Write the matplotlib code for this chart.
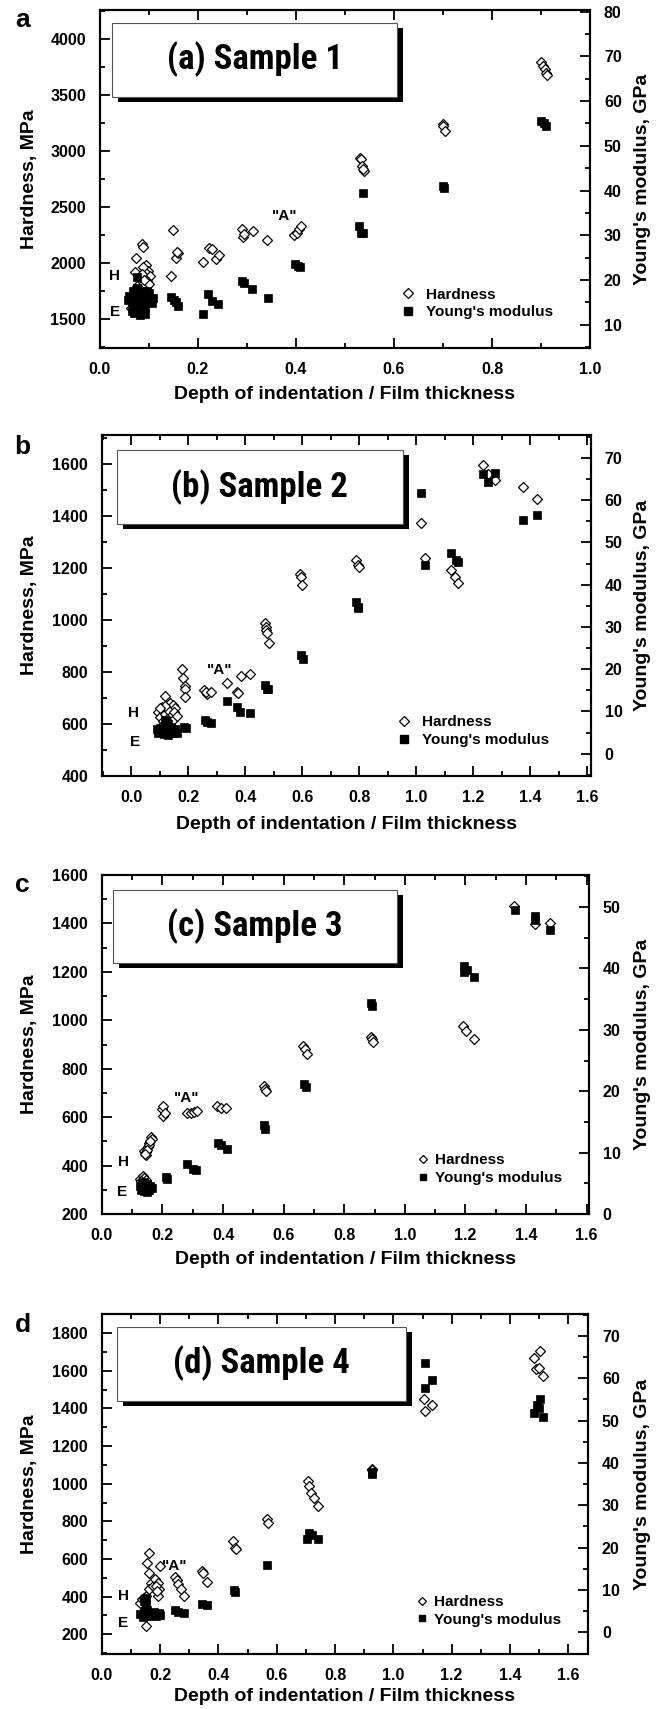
import matplotlib
matplotlib.use('Agg')
import matplotlib.pyplot as plt
from matplotlib.patches import Rectangle
from matplotlib.lines import Line2D
from matplotlib.ticker import MultipleLocator, FormatStrFormatter
from matplotlib import font_manager

plt.rcParams['font.family'] = ['Liberation Sans', 'DejaVu Sans']
plt.rcParams['font.weight'] = 'bold'

# ---------------- data ----------------
# Sample 1
a_depth_h = [0.0853, 0.0887, 0.0737, 0.094, 0.0976, 0.0716, 0.092, 0.102, 0.082, 0.097, 0.075, 0.0635,
             0.088, 0.100, 0.085, 0.090, 0.145, 0.149, 0.155, 0.159, 0.157, 0.2095, 0.2225, 0.2286,
             0.237, 0.243, 0.289, 0.292, 0.293, 0.312, 0.341, 0.397, 0.402, 0.407, 0.410, 0.530,
             0.532, 0.535, 0.539, 0.537, 0.699, 0.700, 0.705, 0.9004, 0.9048, 0.908, 0.911, 0.913]
a_hard = [2170, 2140, 2045, 1982, 1931, 1917, 1917, 1887, 1872, 1842, 1797, 1595,
          1960, 1810, 1900, 1850, 1881, 2292, 2049, 2093, 2101, 2007, 2137, 2128,
          2040, 2072, 2301, 2236, 2256, 2286, 2206, 2247, 2271, 2307, 2330, 2938,
          2924, 2865, 2820, 2840, 3238, 3226, 3176, 3795, 3754, 3730, 3695, 3680]
a_depth_e = [0.060, 0.065, 0.068, 0.070, 0.072, 0.075, 0.076, 0.078, 0.080, 0.082, 0.083, 0.085,
             0.087, 0.088, 0.090, 0.092, 0.095, 0.098, 0.100, 0.103, 0.106, 0.109, 0.065, 0.058,
             0.076, 0.097, 0.070, 0.092, 0.1446, 0.151, 0.156, 0.159, 0.2095, 0.220, 0.229, 0.2416,
             0.290, 0.2935, 0.311, 0.342, 0.398, 0.404, 0.409, 0.528, 0.532, 0.537, 0.537, 0.699,
             0.701, 0.9004, 0.9065, 0.9108]
a_mod = [16.5, 15.0, 17.5, 14.0, 16.0, 18.2, 13.5, 15.5, 17.0, 12.2, 14.5, 16.5,
         13.0, 15.0, 17.5, 14.0, 16.0, 15.0, 17.0, 15.5, 14.8, 16.0, 13.0, 15.5,
         20.6, 17.6, 12.6, 12.4, 16.1, 15.5, 15.0, 14.2, 12.5, 16.8, 15.4, 14.6,
         19.8, 19.4, 18.0, 15.9, 23.5, 23.2, 23.0, 32.1, 30.6, 30.4, 39.4, 41.0,
         40.6, 55.45, 55.0, 54.4]

# Sample 2
b_depth_h = [0.1186, 0.095, 0.107, 0.136, 0.145, 0.153, 0.100, 0.110, 0.120, 0.130, 0.140, 0.150,
             0.125, 0.115, 0.135, 0.105, 0.145, 0.160, 0.120, 0.100, 0.179, 0.181, 0.187, 0.188,
             0.187, 0.256, 0.266, 0.262, 0.281, 0.336, 0.371, 0.374, 0.386, 0.416, 0.468, 0.471,
             0.474, 0.4755, 0.483, 0.592, 0.595, 0.600, 0.7895, 0.794, 0.800, 1.018, 1.029,
             1.1215, 1.1365, 1.148, 1.235, 1.253, 1.2755, 1.373, 1.425]
b_hard = [707, 645, 664, 679, 673, 660, 625, 610, 640, 655, 630, 645,
          620, 600, 600, 590, 615, 630, 670, 660, 813, 775, 747, 736,
          704, 730, 717, 722, 724, 756, 724, 720, 784, 791, 988, 973,
          960, 948, 912, 1178, 1165, 1133, 1232, 1210, 1203, 1372, 1239,
          1193, 1165, 1143, 1596, 1562, 1539, 1510, 1466]
b_depth_e = [0.090, 0.095, 0.100, 0.105, 0.110, 0.115, 0.120, 0.125, 0.130, 0.135, 0.140, 0.145,
             0.150, 0.155, 0.160, 0.120, 0.130, 0.118, 0.125, 0.184, 0.191, 0.259, 0.266, 0.281,
             0.336, 0.371, 0.381, 0.416, 0.468, 0.4755, 0.480, 0.595, 0.6026, 0.7895, 0.794,
             0.797, 1.018, 1.029, 1.1215, 1.141, 1.145, 1.235, 1.250, 1.2755, 1.373, 1.425]
b_mod = [5.8, 5.0, 6.0, 5.2, 5.6, 4.6, 5.9, 5.0, 4.4, 5.5, 6.2, 4.8,
         5.3, 5.8, 5.0, 6.5, 7.0, 8.0, 7.2, 6.4, 6.0, 8.0, 7.6, 7.2,
         12.5, 11.1, 9.9, 9.7, 16.2, 15.4, 15.3, 23.3, 22.5, 35.9, 34.8,
         34.4, 61.7, 44.6, 47.4, 45.8, 45.4, 66.3, 64.3, 66.5, 55.3, 56.4]

# Sample 3
c_depth_h = [0.126, 0.136, 0.140, 0.147, 0.130, 0.140, 0.147, 0.151, 0.154, 0.161, 0.164, 0.157,
             0.145, 0.150, 0.143, 0.160, 0.199, 0.203, 0.203, 0.207, 0.280, 0.294, 0.305, 0.315,
             0.380, 0.392, 0.410, 0.536, 0.538, 0.541, 0.664, 0.671, 0.678, 0.888, 0.891, 0.895,
             1.193, 1.203, 1.227, 1.361, 1.430, 1.478]
c_hard = [344, 358, 350, 340, 335, 461, 443, 475, 493, 520, 509, 485,
          455, 465, 450, 500, 633, 647, 605, 619, 619, 619, 622, 626,
          647, 640, 636, 729, 718, 708, 894, 880, 863, 931, 922, 912,
          976, 955, 922, 1474, 1399, 1402]
c_depth_e = [0.125, 0.130, 0.135, 0.140, 0.145, 0.150, 0.155, 0.160, 0.165, 0.140, 0.150, 0.132,
             0.210, 0.214, 0.280, 0.301, 0.310, 0.382, 0.392, 0.413, 0.536, 0.538, 0.667, 0.674,
             0.888, 0.891, 1.196, 1.206, 1.228, 1.196, 1.364, 1.430, 1.430, 1.478]
c_mod = [4.5, 4.0, 4.8, 3.8, 4.3, 4.9, 4.0, 4.5, 4.2, 5.2, 3.6, 5.0,
         6.0, 5.7, 8.1, 7.4, 7.2, 11.5, 11.2, 10.6, 14.5, 13.8, 21.1, 20.75,
         34.3, 33.9, 39.4, 39.8, 38.6, 40.4, 49.5, 48.5, 47.9, 46.2]

# Sample 4
d_depth_h = [0.153, 0.160, 0.154, 0.160, 0.170, 0.178, 0.131, 0.138, 0.153, 0.163, 0.175, 0.182,
             0.192, 0.197, 0.192, 0.187, 0.189, 0.145, 0.201, 0.252, 0.256, 0.262, 0.270, 0.281,
             0.342, 0.347, 0.361, 0.449, 0.455, 0.460, 0.568, 0.571, 0.707, 0.710, 0.717, 0.726,
             0.740, 0.925, 0.928, 1.105, 1.107, 1.134, 1.483, 1.491, 1.498, 1.504, 1.513]
d_hard = [244, 630, 580, 523, 474, 447, 368, 386, 403, 439, 456, 492,
          474, 439, 403, 456, 430, 395, 562, 504, 488, 465, 442, 403,
          536, 527, 478, 695, 660, 651, 813, 792, 1013, 987, 951, 925,
          884, 1079, 1072, 1450, 1388, 1420, 1671, 1609, 1614, 1703, 1574]
d_depth_e = [0.131, 0.146, 0.160, 0.170, 0.180, 0.190, 0.200, 0.140, 0.155, 0.165, 0.185, 0.195,
             0.153, 0.143, 0.150, 0.252, 0.262, 0.280, 0.342, 0.361, 0.452, 0.456, 0.568, 0.704,
             0.711, 0.721, 0.740, 0.925, 0.928, 1.107, 1.110, 1.134, 1.483, 1.494, 1.501, 1.504,
             1.513]
d_mod = [4.3, 4.7, 3.9, 4.3, 4.8, 4.0, 4.2, 3.6, 5.2, 4.5, 3.8, 4.6,
         8.2, 7.5, 6.5, 5.3, 4.9, 4.5, 6.8, 6.4, 10.0, 9.6, 16.0, 22.1,
         23.5, 23.1, 22.1, 37.8, 37.3, 63.6, 57.8, 59.6, 51.8, 53.8, 53.0, 55.2,
         50.9]

panel_letters = ['a', 'b', 'c', 'd']
panel_titles = ['(a) Sample 1', '(b) Sample 2', '(c) Sample 3', '(d) Sample 4']
x_label = 'Depth of indentation / Film thickness'
left_label = 'Hardness, MPa'
right_label = "Young's modulus, GPa"
legend_labels = ['Hardness', "Young's modulus"]

# ---------------- layout / style ----------------
axes_rects = [[0.150, 0.7964, 0.736, 0.1978],
              [0.153, 0.5459, 0.734, 0.1995],
              [0.153, 0.2896, 0.731, 0.1984],
              [0.153, 0.0322, 0.730, 0.1990]]
xlims = [(0, 1.0), (-0.103, 1.612), (0, 1.607), (0, 1.668)]
ylims_l = [(1242, 4258), (400, 1710), (200, 1600), (95, 1903)]
ylims_r = [(4.8, 80.4), (-5.3, 75.4), (0, 55.2), (-5.1, 75.2)]
ymaj_l = [500, 200, 200, 200]
boxes = [(0.0257, 0.7435, 0.606, 0.9624), (0.0303, 0.739, 0.615, 0.956),
         (0.0218, 0.7395, 0.606, 0.956), (0.0305, 0.745, 0.625, 0.9626)]
he_pos = [((0.03, 1883), (0.03, 1562), (0.377, 2419)),
          ((0.009, 643), (0.012, 531), (0.311, 807)),
          ((0.07, 413), (0.067, 290), (0.28, 681)),
          ((0.073, 403), (0.073, 262), (0.248, 562))]
leg_pos = [(0.616, 0.1317, 0.8, 4.8, 5.5), (0.605, 0.132, 0.8, 4.8, 5.5),
           (0.646, 0.133, 0.4, 4.2, 5.0), (0.645, 0.127, 0.4, 4.2, 5.0)]
xlabel_y = [-0.112, -0.118, -0.108, -0.10]
letter_pos = [(23, 20), (22, 447), (22, 885), (23, 1325)]

names = {f.name for f in font_manager.fontManager.ttflist}
if 'Liberation Sans Narrow' in names:
    title_font = dict(family='Liberation Sans Narrow', size=26, weight='bold')
elif 'Roboto Condensed' in names:
    title_font = dict(family='Roboto Condensed', size=25, weight='bold')
else:
    title_font = dict(family='Liberation Sans', size=22, weight='bold')

data = [(a_depth_h, a_hard, a_depth_e, a_mod), (b_depth_h, b_hard, b_depth_e, b_mod),
        (c_depth_h, c_hard, c_depth_e, c_mod), (d_depth_h, d_hard, d_depth_e, d_mod)]

W, H = 666, 1709
fig = plt.figure(figsize=(W / 100, H / 100), dpi=100)

for i in range(4):
    xh, yh, xe, ye = data[i]
    ax = fig.add_axes(axes_rects[i])
    ax2 = ax.twinx()
    ax.plot(xh, yh, ls='none', marker='D', ms=4.8, mfc='white', mec='black', mew=0.9, zorder=3)
    ax2.plot(xe, ye, ls='none', marker='s', ms=5.5, mfc='black', mec='black', mew=0.5, zorder=3)
    ax.set_xlim(*xlims[i])
    ax.set_ylim(*ylims_l[i])
    ax2.set_ylim(*ylims_r[i])
    ax.xaxis.set_major_locator(MultipleLocator(0.2))
    ax.xaxis.set_minor_locator(MultipleLocator(0.1))
    ax.yaxis.set_major_locator(MultipleLocator(ymaj_l[i]))
    ax.yaxis.set_minor_locator(MultipleLocator(ymaj_l[i] / 2))
    ax2.yaxis.set_major_locator(MultipleLocator(10))
    ax2.yaxis.set_minor_locator(MultipleLocator(5))
    ax.xaxis.set_major_formatter(FormatStrFormatter('%.1f'))
    ax.tick_params(which='both', direction='in', top=True, right=False, width=1.3,
                   labelsize=11.5, pad=10)
    ax.tick_params(which='major', length=7)
    ax.tick_params(which='minor', length=3.6)
    ax2.tick_params(which='both', direction='in', right=True, width=1.3, labelsize=11.5, pad=10)
    ax2.tick_params(which='major', length=7)
    ax2.tick_params(which='minor', length=3.6)
    for a_ in (ax, ax2):
        for s in a_.spines.values():
            s.set_linewidth(1.5)
    for lab in ax.get_xticklabels() + ax.get_yticklabels() + ax2.get_yticklabels():
        lab.set_fontweight('bold')

    ax.set_xlabel(x_label, fontsize=14, fontweight='bold')
    ax.xaxis.set_label_coords(0.5, xlabel_y[i])
    ax.set_ylabel(left_label, fontsize=14, fontweight='bold')
    ax.yaxis.set_label_coords((38 - axes_rects[i][0] * W) / (axes_rects[i][2] * W), 0.5)
    ax2.set_ylabel(right_label, fontsize=14, fontweight='bold')
    ax2.yaxis.set_label_coords((634 - axes_rects[i][0] * W) / (axes_rects[i][2] * W), 0.5)

    # title box with shadow
    x0, y0, x1, y1 = boxes[i]
    dx = 6 / (axes_rects[i][2] * W)
    dy = 5 / (axes_rects[i][3] * H)
    ax.add_patch(Rectangle((x0 + dx, y0 - dy), x1 - x0, y1 - y0, transform=ax.transAxes,
                           facecolor='black', edgecolor='black', lw=0, zorder=5, clip_on=False))
    ax.add_patch(Rectangle((x0, y0), x1 - x0, y1 - y0, transform=ax.transAxes,
                           facecolor='white', edgecolor='#555555', lw=0.8, zorder=6, clip_on=False))
    ax.text((x0 + x1) / 2, (y0 + y1) / 2, panel_titles[i], transform=ax.transAxes,
            ha='center', va='center', zorder=7, **title_font)

    # H / E / "A" labels
    (hx, hy), (ex, ey), (axx, ayy) = he_pos[i]
    ax.text(hx, hy, 'H', ha='center', va='center', fontsize=11, fontweight='bold')
    ax.text(ex, ey, 'E', ha='center', va='center', fontsize=11, fontweight='bold')
    ax.text(axx, ayy, '"A"', ha='center', va='center', fontsize=11, fontweight='bold')

    # legend
    lx, ly, tp, msd, mss = leg_pos[i]
    handles = [Line2D([], [], ls='none', marker='D', ms=msd, mfc='white', mec='black', mew=0.9),
               Line2D([], [], ls='none', marker='s', ms=mss, mfc='black', mec='black')]
    ax2.legend(handles, legend_labels, loc='center left', bbox_to_anchor=(lx, ly),
               frameon=False, handlelength=0.8, handletextpad=tp, labelspacing=0.25,
               borderpad=0, borderaxespad=0, prop=dict(weight='bold', size=11))

    fig.text(letter_pos[i][0] / W, 1 - letter_pos[i][1] / H, panel_letters[i],
             ha='center', va='center', fontsize=19, fontweight='bold')

fig.savefig('out.png', dpi=100)
